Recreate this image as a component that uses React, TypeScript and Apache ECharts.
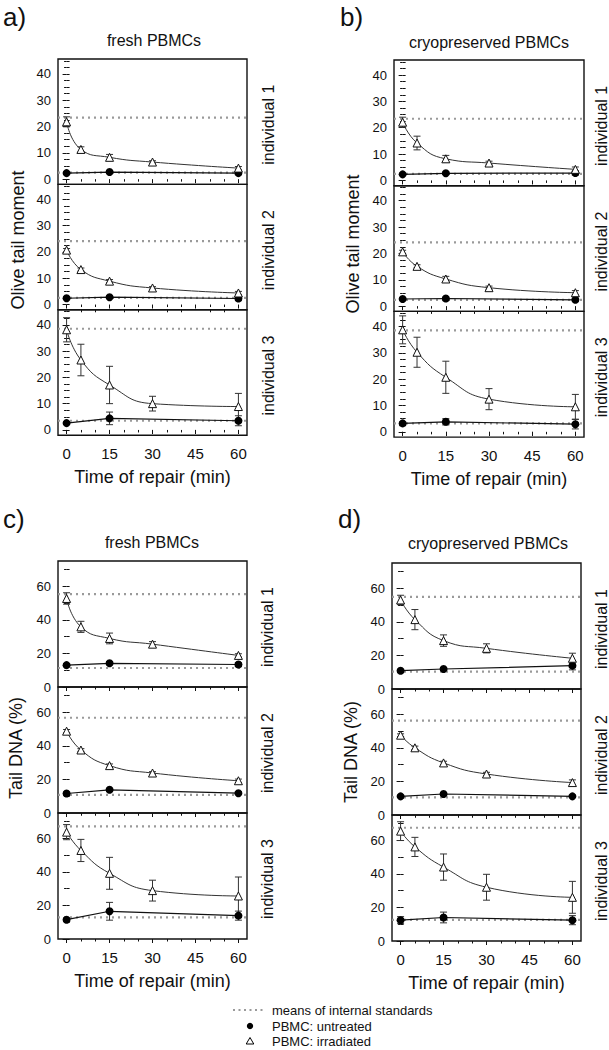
import React, { useEffect, useRef } from "react";
import * as echarts from "echarts";

const FONT = "'Liberation Sans', Arial, Helvetica, sans-serif";

// ---- categories / ticks ----
const TIMES_IRR = [0, 5, 15, 30, 60];
const TIMES_UNT = [0, 15, 60];
const X_TICKS = [0, 15, 30, 45, 60];
const X_MINOR = [5, 10, 20, 25, 35, 40, 50, 55];
const OTM_TICKS = [0, 10, 20, 30, 40];
const OTM_MINOR = [2.5, 5, 7.5, 12.5, 15, 17.5, 22.5, 25, 27.5, 32.5, 35, 37.5, 42.5, 45];
const DNA_TICKS = [0, 20, 40, 60];
const DNA_MINOR = [10, 30, 50, 70];

const PANEL_LABELS = ["a)", "b)", "c)", "d)"];
const PANEL_TITLES = ["fresh PBMCs", "cryopreserved PBMCs", "fresh PBMCs", "cryopreserved PBMCs"];
const Y_NAMES = ["Olive tail moment", "Olive tail moment", "Tail DNA (%)", "Tail DNA (%)"];
const INDIVIDUALS = ["individual 1", "individual 2", "individual 3"];
const X_NAME = "Time of repair (min)";
const LEGEND_LABELS = ["means of internal standards", "PBMC: untreated", "PBMC: irradiated"];

// ---- panel a: Olive tail moment, fresh PBMCs ----
const aIrradiated = [
  [21.8, 11.3, 8.3, 6.5, 4.2],
  [20.7, 13.3, 8.9, 6.3, 4.4],
  [38.1, 26.6, 17.1, 10.0, 8.9],
];
const aIrradiatedErr = [
  [1.9, 1.0, 1.1, 0.5, 0.6],
  [0.6, 0.6, 0.6, 0.5, 0.6],
  [4.6, 6.0, 7.1, 2.8, 5.0],
];
const aUntreated = [
  [2.3, 2.7, 2.3],
  [2.4, 2.8, 2.3],
  [2.6, 4.4, 3.5],
];
const aUntreatedErr = [
  [0.3, 0.4, 0.6],
  [0.3, 0.4, 0.4],
  [0.4, 2.4, 1.9],
];
const aStandards = [
  [23.4, 2.5],
  [24.1, 2.5],
  [38.5, 3.5],
];

// ---- panel b: Olive tail moment, cryopreserved PBMCs ----
const bIrradiated = [
  [22.1, 14.2, 8.2, 6.6, 4.2],
  [20.6, 15.1, 10.3, 7.0, 5.1],
  [38.7, 30.2, 20.7, 12.4, 9.5],
];
const bIrradiatedErr = [
  [1.9, 2.6, 1.3, 0.7, 0.9],
  [0.6, 0.6, 1.0, 0.6, 0.8],
  [5.3, 5.7, 6.1, 4.0, 4.7],
];
const bUntreated = [
  [2.3, 2.7, 2.8],
  [2.7, 2.9, 2.4],
  [3.2, 3.8, 2.9],
];
const bUntreatedErr = [
  [0.3, 0.4, 0.8],
  [0.3, 0.4, 0.4],
  [0.5, 1.2, 1.8],
];
const bStandards = [
  [23.4, 2.5],
  [24.2, 2.4],
  [38.5, 3.2],
];

// ---- panel c: Tail DNA (%), fresh PBMCs ----
const cIrradiated = [
  [52.7, 35.8, 28.9, 25.5, 18.8],
  [48.7, 37.5, 28.2, 23.8, 19.2],
  [63.6, 52.7, 39.1, 28.8, 25.6],
];
const cIrradiatedErr = [
  [3.4, 3.3, 3.2, 1.5, 1.0],
  [1.0, 0.8, 1.0, 0.8, 1.0],
  [4.5, 6.6, 9.5, 6.2, 11.3],
];
const cUntreated = [
  [13.0, 14.1, 13.4],
  [11.6, 13.8, 11.8],
  [11.5, 16.5, 13.9],
];
const cUntreatedErr = [
  [1.0, 1.0, 1.0],
  [0.8, 0.8, 0.8],
  [1.0, 5.3, 2.7],
];
const cStandards = [
  [55.3, 11.3],
  [56.7, 10.8],
  [67.0, 12.9],
];

// ---- panel d: Tail DNA (%), cryopreserved PBMCs ----
const dIrradiated = [
  [53.0, 41.3, 28.8, 24.2, 18.3],
  [47.5, 40.0, 31.0, 24.4, 19.3],
  [65.4, 56.0, 44.0, 32.0, 26.0],
];
const dIrradiatedErr = [
  [2.8, 6.0, 3.4, 2.7, 3.0],
  [0.8, 1.0, 1.0, 1.0, 1.6],
  [5.6, 5.7, 7.8, 7.7, 9.5],
];
const dUntreated = [
  [10.9, 11.9, 13.9],
  [11.1, 12.5, 11.1],
  [12.4, 14.0, 12.4],
];
const dUntreatedErr = [
  [0.8, 0.8, 2.5],
  [0.6, 0.6, 0.6],
  [2.1, 3.2, 2.7],
];
const dStandards = [
  [54.8, 10.3],
  [56.2, 10.5],
  [67.4, 12.6],
];

const PANEL_DATA = [
  { irr: aIrradiated, irrErr: aIrradiatedErr, unt: aUntreated, untErr: aUntreatedErr, std: aStandards },
  { irr: bIrradiated, irrErr: bIrradiatedErr, unt: bUntreated, untErr: bUntreatedErr, std: bStandards },
  { irr: cIrradiated, irrErr: cIrradiatedErr, unt: cUntreated, untErr: cUntreatedErr, std: cStandards },
  { irr: dIrradiated, irrErr: dIrradiatedErr, unt: dUntreated, untErr: dUntreatedErr, std: dStandards },
];

// ---- layout (positions only) ----
const LAYOUT = [
  { left: 58, width: 189, top: 59, h: 125.4, ymin: -2, ymax: 45.7, ticks: OTM_TICKS, minor: OTM_MINOR, lab: [3, 17], title: [154, 40], yname: [18, 240], indX: 268 },
  { left: 394, width: 190, top: 60, h: 125.7, ymin: -2, ymax: 45.7, ticks: OTM_TICKS, minor: OTM_MINOR, lab: [340, 17], title: [489, 42], yname: [353, 244], indX: 601 },
  { left: 58, width: 189, top: 561, h: 126, ymin: 0, ymax: 75, ticks: DNA_TICKS, minor: DNA_MINOR, lab: [3, 519], title: [152, 542], yname: [16, 748], indX: 267 },
  { left: 392, width: 189, top: 563, h: 126, ymin: 0, ymax: 75, ticks: DNA_TICKS, minor: DNA_MINOR, lab: [338, 519], title: [488, 543], yname: [351, 752], indX: 601 },
];

function errorBarRender(color: string) {
  return (params: any, api: any) => {
    const x = api.value(0);
    const pLo = api.coord([x, api.value(1)]);
    const pHi = api.coord([x, api.value(2)]);
    const w = 3.5;
    const style = { stroke: color, lineWidth: 1 };
    return {
      type: "group",
      children: [
        { type: "line", shape: { x1: pLo[0], y1: pLo[1], x2: pHi[0], y2: pHi[1] }, style },
        { type: "line", shape: { x1: pLo[0] - w, y1: pLo[1], x2: pLo[0] + w, y2: pLo[1] }, style },
        { type: "line", shape: { x1: pHi[0] - w, y1: pHi[1], x2: pHi[0] + w, y2: pHi[1] }, style },
      ],
    };
  };
}

function buildOption() {
  const grids: any[] = [];
  const xAxes: any[] = [];
  const yAxes: any[] = [];
  const series: any[] = [];
  const graphics: any[] = [];
  const tickLine = { color: "#111", width: 1 };

  LAYOUT.forEach((L, p) => {
    const D = PANEL_DATA[p];
    graphics.push({
      type: "text", x: L.lab[0], y: L.lab[1],
      style: { text: PANEL_LABELS[p], fontSize: 26, fontFamily: FONT, fill: "#111", textAlign: "left", textVerticalAlign: "middle" },
    });
    graphics.push({
      type: "text", x: L.title[0], y: L.title[1],
      style: { text: PANEL_TITLES[p], fontSize: 16, fontFamily: FONT, fill: "#111", textAlign: "center", textVerticalAlign: "middle" },
    });
    graphics.push({
      type: "text", x: L.yname[0], y: L.yname[1], rotation: Math.PI / 2,
      style: { text: Y_NAMES[p], fontSize: 18, fontFamily: FONT, fill: "#111", textAlign: "center", textVerticalAlign: "middle" },
    });

    for (let i = 0; i < 3; i++) {
      const g = grids.length;
      const top = L.top + i * L.h;
      const isBottom = i === 2;
      grids.push({
        left: L.left, top, width: L.width, height: L.h,
        show: true, borderColor: "#111", borderWidth: 1.4, backgroundColor: "transparent",
      });
      graphics.push({
        type: "text", x: L.indX, y: top + L.h / 2 + 3, rotation: Math.PI / 2,
        style: { text: INDIVIDUALS[i], fontSize: 16, fontFamily: FONT, fill: "#111", textAlign: "center", textVerticalAlign: "middle" },
      });

      const xBase = {
        type: "value", gridIndex: g, min: -3, max: 63,
        axisLine: { show: false }, splitLine: { show: false },
        axisLabel: { show: false }, axisTick: { show: false },
      };
      const xMain = xAxes.length;
      xAxes.push({
        ...xBase, position: "bottom",
        axisTick: isBottom ? { show: true, inside: false, length: 4, customValues: X_TICKS, lineStyle: tickLine } : { show: false },
        axisLabel: isBottom ? { show: true, customValues: X_TICKS, fontSize: 15, margin: 11, color: "#111", fontFamily: FONT } : { show: false },
        name: isBottom ? X_NAME : "", nameLocation: "middle", nameGap: 33,
        nameTextStyle: { fontSize: 18, color: "#111", fontFamily: FONT },
      });
      if (isBottom) {
        xAxes.push({ ...xBase, position: "bottom", axisTick: { show: true, inside: false, length: 2.5, customValues: X_MINOR, lineStyle: tickLine } });
      }
      xAxes.push({ ...xBase, position: "top", axisTick: { show: true, inside: true, length: 4, customValues: X_TICKS, lineStyle: tickLine } });
      xAxes.push({ ...xBase, position: "top", axisTick: { show: true, inside: true, length: 2.5, customValues: X_MINOR, lineStyle: tickLine } });

      const yBase = {
        type: "value", gridIndex: g, min: L.ymin, max: L.ymax,
        axisLine: { show: false }, splitLine: { show: false },
        axisLabel: { show: false }, axisTick: { show: false },
      };
      const yMain = yAxes.length;
      yAxes.push({
        ...yBase, position: "left",
        axisTick: { show: true, inside: false, length: 4, customValues: L.ticks, lineStyle: tickLine },
        axisLabel: { show: true, customValues: L.ticks, fontSize: 13, margin: 7, color: "#111", fontFamily: FONT },
      });
      yAxes.push({ ...yBase, position: "left", axisTick: { show: true, inside: false, length: 2.5, customValues: L.minor, lineStyle: tickLine } });
      yAxes.push({ ...yBase, position: "right", axisTick: { show: true, inside: false, length: 3, customValues: [...L.ticks, ...L.minor], lineStyle: tickLine } });

      const axisRef = { xAxisIndex: xMain, yAxisIndex: yMain };
      const [stdHi, stdLo] = D.std[i];
      const dotted = { color: "#9a9a9a", width: 2.2, type: [2, 4] };
      series.push({ type: "line", ...axisRef, data: [[-3, stdHi], [63, stdHi]], symbol: "none", lineStyle: dotted, silent: true, z: 1 });
      series.push({ type: "line", ...axisRef, data: [[-3, stdLo], [63, stdLo]], symbol: "none", lineStyle: dotted, silent: true, z: 1 });

      const irr = D.irr[i], irrErr = D.irrErr[i];
      const unt = D.unt[i], untErr = D.untErr[i];
      series.push({
        type: "custom", ...axisRef, z: 2, silent: true,
        renderItem: errorBarRender("#333"),
        encode: { x: 0, y: [1, 2] },
        data: TIMES_IRR.map((t, k) => [t, irr[k] - irrErr[k], irr[k] + irrErr[k]]),
      });
      series.push({
        type: "custom", ...axisRef, z: 2, silent: true,
        renderItem: errorBarRender("#333"),
        encode: { x: 0, y: [1, 2] },
        data: TIMES_UNT.map((t, k) => [t, unt[k] - untErr[k], unt[k] + untErr[k]]),
      });
      series.push({
        type: "line", ...axisRef, z: 3,
        data: TIMES_UNT.map((t, k) => [t, unt[k]]),
        symbol: "circle", symbolSize: 8,
        itemStyle: { color: "#000" },
        lineStyle: { color: "#111", width: 1.2 },
      });
      series.push({
        type: "line", ...axisRef, z: 4,
        data: TIMES_IRR.map((t, k) => [t, irr[k]]),
        smooth: 0.5,
        symbol: "triangle", symbolSize: 8,
        itemStyle: { color: "#fff", borderColor: "#111", borderWidth: 1 },
        lineStyle: { color: "#333", width: 1 },
      });
    }
  });

  // legend (drawn)
  graphics.push({ type: "line", shape: { x1: 233, y1: 1010, x2: 266, y2: 1010 }, style: { stroke: "#9a9a9a", lineWidth: 2, lineDash: [2, 3.5] } });
  graphics.push({ type: "circle", shape: { cx: 250, cy: 1026, r: 3.2 }, style: { fill: "#000" } });
  graphics.push({ type: "polygon", shape: { points: [[250, 1037.5], [246.2, 1044], [253.8, 1044]] }, style: { fill: "#fff", stroke: "#000", lineWidth: 1 } });
  [1010, 1026, 1041].forEach((y, k) => {
    graphics.push({
      type: "text", x: 272, y,
      style: { text: LEGEND_LABELS[k], fontSize: 13, fontFamily: FONT, fill: "#111", textAlign: "left", textVerticalAlign: "middle" },
    });
  });

  return {
    animation: false,
    backgroundColor: "#fff",
    textStyle: { fontFamily: FONT },
    grid: grids,
    xAxis: xAxes,
    yAxis: yAxes,
    series,
    graphic: graphics,
  };
}

export default function App() {
  const ref = useRef<HTMLDivElement>(null);
  useEffect(() => {
    document.body.style.margin = "0";
    if (!ref.current) return;
    const chart = echarts.init(ref.current, undefined, { renderer: "svg" });
    chart.setOption(buildOption() as any);
    return () => chart.dispose();
  }, []);
  return <div ref={ref} style={{ width: 609, height: 1050 }} />;
}
